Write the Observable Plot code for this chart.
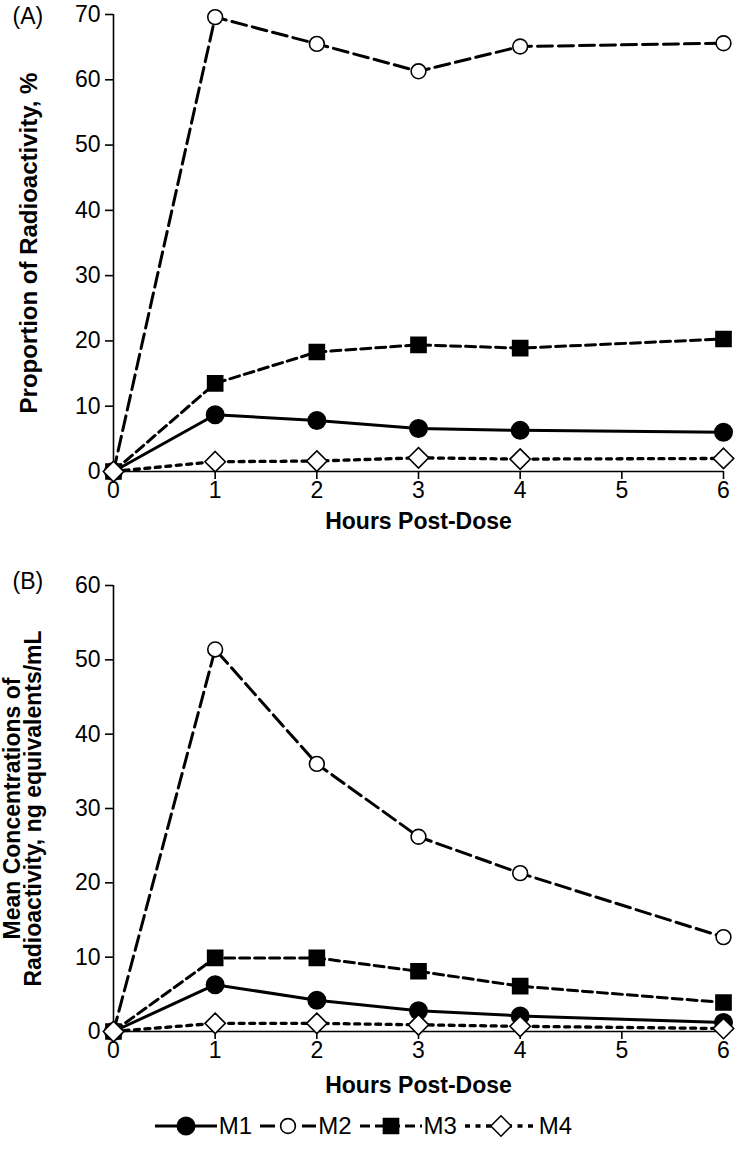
<!DOCTYPE html>
<html><head><meta charset="utf-8">
<script src="https://cdn.jsdelivr.net/npm/d3@7"></script>
<script src="https://cdn.jsdelivr.net/npm/@observablehq/plot@0.6"></script>
<style>
body{margin:0;background:#fff;}
#chart{width:739px;font-family:"Liberation Sans",Arial,sans-serif;}
#chart svg{display:block;}
.legend{display:flex;align-items:center;justify-content:center;height:51px;padding-left:0;font-size:24px;color:#000;padding-right:12px;}
.legend .item{display:flex;align-items:center;margin:0 4px;}
.legend .item span{margin-left:2px;}
</style></head><body><div id="chart"></div>
<script>
const hours = [0, 1, 2, 3, 4, 6];
const xTicks = [0, 1, 2, 3, 4, 5, 6];
const seriesNames = ["M1", "M2", "M3", "M4"];
// Panel A: Proportion of Radioactivity, %
const propM1 = [0, 8.7, 7.8, 6.6, 6.3, 6.0];
const propM2 = [0, 69.6, 65.5, 61.3, 65.1, 65.6];
const propM3 = [0, 13.5, 18.3, 19.4, 18.9, 20.3];
const propM4 = [0, 1.5, 1.6, 2.1, 1.9, 2.0];
const propTicks = [0, 10, 20, 30, 40, 50, 60, 70];
// Panel B: Mean concentrations, ng equivalents/mL
const concM1 = [0, 6.3, 4.2, 2.8, 2.1, 1.2];
const concM2 = [0, 51.4, 36.0, 26.2, 21.3, 12.7];
const concM3 = [0, 9.9, 9.9, 8.1, 6.1, 3.9];
const concM4 = [0, 1.1, 1.1, 0.9, 0.7, 0.4];
const concTicks = [0, 10, 20, 30, 40, 50, 60];

const xLabel = "Hours Post-Dose";
const yLabelA = "Proportion of Radioactivity, %";
const yLabelB = "Mean Concentrations of\nRadioactivity, ng equivalents/mL";

const styles = [
  {name: "M1", dash: null, width: 3, symbol: "circle", r: 8.7, fill: "black", legW: 62},
  {name: "M2", dash: "15,6", width: 3, symbol: "circle", r: 7.4, fill: "white", legW: 56},
  {name: "M3", dash: "10,5", width: 3, symbol: "square", r: 8.5, fill: "black", legW: 62},
  {name: "M4", dash: "5,5.5", width: 3.3, symbol: "diamond2", r: 9.2, fill: "white", legW: 72}
];
const FONT = '"Liberation Sans", Arial, sans-serif';

function panel({values, yMax, yTicks, height, marginTop, marginBottom, panelLabel, panelDy, yLabel, yLabelDx, xLabelDy, yLabelSize}) {
  const rows = [];
  seriesNames.forEach((s, i) => hours.forEach((h, j) => rows.push({series: s, hour: h, value: values[i][j]})));
  const marks = [
    Plot.ruleX([0], {y1: 0, y2: yMax, strokeWidth: 1.6}),
    Plot.ruleY([0], {x1: 0, x2: 6, strokeWidth: 1.6}),
    Plot.axisX({ticks: xTicks, tickSize: 8, tickPadding: 2, tickFormat: d3.format("d"), label: null, strokeWidth: 1.6}),
    Plot.axisY({ticks: yTicks, tickSize: 8, tickPadding: 5, tickFormat: d3.format("d"), label: null, strokeWidth: 1.6})
  ];
  styles.forEach(st => {
    const d = rows.filter(r => r.series === st.name);
    marks.push(Plot.line(d, {x: "hour", y: "value", stroke: "black", strokeWidth: st.width, strokeDasharray: st.dash || undefined}));
  });
  styles.forEach(st => {
    const d = rows.filter(r => r.series === st.name);
    marks.push(Plot.dot(d, {x: "hour", y: "value", symbol: st.symbol, r: st.r, fill: st.fill, stroke: "black", strokeWidth: 1.6}));
  });
  marks.push(Plot.text([xLabel], {frameAnchor: "bottom", dy: xLabelDy, lineAnchor: "middle", textAnchor: "middle", fontWeight: "bold", fontSize: 23}));
  marks.push(Plot.text([yLabel], {frameAnchor: "left", dx: yLabelDx, rotate: -90, textAnchor: "middle", lineAnchor: "middle", fontWeight: "bold", fontSize: yLabelSize, lineHeight: 0.95}));
  marks.push(Plot.text([panelLabel], {frameAnchor: "top-left", dx: -101, dy: panelDy, textAnchor: "start", lineAnchor: "top", fontSize: 23}));
  return Plot.plot({
    width: 739, height, marginTop, marginBottom, marginLeft: 113, marginRight: 16,
    x: {domain: [0, 6]}, y: {domain: [0, yMax]},
    style: {fontFamily: FONT, fontSize: "23px", color: "black", background: "white", overflow: "visible"},
    marks
  });
}

const chart = document.getElementById("chart");
chart.appendChild(panel({values: [propM1, propM2, propM3, propM4], yMax: 70, yTicks: propTicks,
  height: 545, marginTop: 14, marginBottom: 74, panelLabel: "(A)", panelDy: -7, yLabel: yLabelA, yLabelDx: -84, xLabelDy: 50, yLabelSize: 24}));
chart.appendChild(panel({values: [concM1, concM2, concM3, concM4], yMax: 60, yTicks: concTicks,
  height: 555, marginTop: 40, marginBottom: 69, panelLabel: "(B)", panelDy: -13, yLabel: yLabelB, yLabelDx: -90, xLabelDy: 54, yLabelSize: 23}));

// legend
const legend = document.createElement("div");
legend.className = "legend";
const symMap = {circle: d3.symbolCircle, square: d3.symbolSquare, diamond2: d3.symbolDiamond2};
styles.forEach(st => {
  const item = document.createElement("div");
  item.className = "item";
  const w = st.legW;
  const svg = d3.create("svg").attr("width", w).attr("height", 24);
  svg.append("line").attr("x1", 0).attr("x2", w).attr("y1", 12).attr("y2", 12)
    .attr("stroke", "black").attr("stroke-width", st.width).attr("stroke-dasharray", st.dash);
  svg.append("path").attr("transform", `translate(${w / 2},12)`)
    .attr("d", d3.symbol(symMap[st.symbol], Math.PI * st.r * st.r)())
    .attr("fill", st.fill).attr("stroke", "black").attr("stroke-width", 1.6);
  item.appendChild(svg.node());
  const lab = document.createElement("span");
  lab.textContent = st.name;
  item.appendChild(lab);
  legend.appendChild(item);
});
chart.appendChild(legend);
</script></body></html>
